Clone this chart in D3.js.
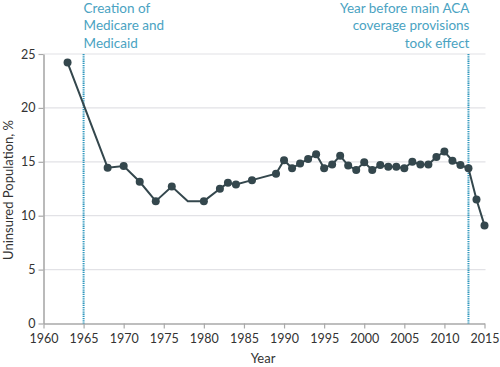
<!DOCTYPE html>
<html><head><meta charset="utf-8">
<script src="https://cdn.jsdelivr.net/npm/d3@7"></script>
<style>body{margin:0;background:#fff}svg{display:block;font-family:Lato,"Open Sans",sans-serif}</style>
</head><body><svg id="c" width="500" height="367"></svg>
<script>
const years = [1963,1968,1970,1972,1974,1976,1978,1980,1982,1983,1984,1986,1989,1990,1991,1992,1993,1994,1995,1996,1997,1998,1999,2000,2001,2002,2003,2004,2005,2006,2007,2008,2009,2010,2011,2012,2013,2014,2015];
const uninsured = [24.2,14.45,14.6,13.15,11.35,12.7,11.35,11.35,12.5,13.05,12.9,13.3,13.9,15.15,14.4,14.85,15.25,15.7,14.4,14.75,15.55,14.65,14.25,14.95,14.25,14.7,14.55,14.55,14.4,15.0,14.75,14.75,15.45,15.95,15.1,14.7,14.4,11.5,9.1];
const noMarkerYears = [1978];
const xTicks = [1960,1965,1970,1975,1980,1985,1990,1995,2000,2005,2010,2015];
const yTicks = [0,5,10,15,20,25];
const events = [
  {year:1965, lines:["Creation of","Medicare and","Medicaid"], anchor:"start"},
  {year:2013, lines:["Year before main ACA","coverage provisions","took effect"], anchor:"end"}
];

const svg = d3.select("#c");
const x = d3.scaleLinear().domain([1960,2015]).range([43.5,484.5]);
const y = d3.scaleLinear().domain([0,25]).range([323.5,54]);
const data = years.map((yr,i)=>({yr, v: uninsured[i]}));

// gridlines
svg.append("g").selectAll("line").data(yTicks.filter(d=>d>0)).join("line")
  .attr("x1",x(1960)).attr("x2",x(2015)+1).attr("y1",d=>y(d)).attr("y2",d=>y(d))
  .attr("stroke","#e2e2e6").attr("stroke-width",1.2);

// axes
const xAxis = svg.append("g").attr("transform",`translate(0,${y(0)})`)
  .call(d3.axisBottom(x).tickValues(xTicks).tickFormat(d3.format("d")).tickSize(5).tickSizeOuter(0));
const yAxis = svg.append("g").attr("transform",`translate(${x(1960)},0)`)
  .call(d3.axisLeft(y).tickValues(yTicks).tickSize(5).tickSizeOuter(0));
[xAxis,yAxis].forEach(g=>{
  g.select(".domain").attr("stroke","#a9a9a9").attr("stroke-width",1.6);
  g.selectAll(".tick line").attr("stroke","#a9a9a9").attr("stroke-width",1.2);
  g.selectAll(".tick text").attr("fill","#333").style("font-size","12.5px").style("font-family","Lato, sans-serif");
});
xAxis.selectAll(".tick text").attr("dy","0.95em");
yAxis.selectAll(".tick text").attr("x",-8);

// event lines
svg.append("g").selectAll("line").data(events).join("line")
  .attr("x1",d=>x(d.year)).attr("x2",d=>x(d.year)).attr("y1",y(25)).attr("y2",y(0))
  .attr("stroke","#2f97bd").attr("stroke-width",2).attr("stroke-dasharray","1.3,0.9");

// event labels
events.forEach(ev=>{
  const t = svg.append("text").attr("fill","#4aa3c2").style("font-size","13.5px")
    .attr("text-anchor",ev.anchor);
  ev.lines.forEach((l,i)=>{
    t.append("tspan").attr("x", x(ev.year) + (ev.anchor==="start"?0:1)).attr("y", 12.5 + i*17.5).text(l);
  });
});

// line
svg.append("path").datum(data)
  .attr("fill","none").attr("stroke","#34474d").attr("stroke-width",2)
  .attr("d", d3.line().x(d=>x(d.yr)).y(d=>y(d.v)));

svg.append("g").selectAll("circle").data(data.filter(d=>!noMarkerYears.includes(d.yr))).join("circle")
  .attr("cx",d=>x(d.yr)).attr("cy",d=>y(d.v)).attr("r",4).attr("fill","#34474d");

// axis titles
svg.append("text").attr("x",263).attr("y",363).attr("text-anchor","middle")
  .attr("fill","#333").style("font-size","13px").text("Year");
svg.append("text").attr("transform",`translate(12.5,${190}) rotate(-90)`).attr("text-anchor","middle")
  .attr("fill","#333").style("font-size","13px").text("Uninsured Population, %");
</script></body></html>
